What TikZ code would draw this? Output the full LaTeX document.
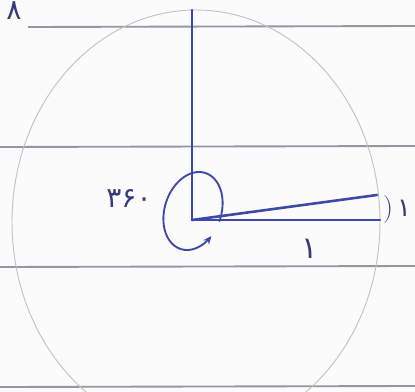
\documentclass[tikz,border=0pt]{standalone}
\usepackage{fontspec}
\newfontfamily\arabicfont[Script=Arabic]{DejaVu Sans}
\usetikzlibrary{arrows.meta}
\definecolor{paper}{RGB}{251,251,251}
\definecolor{rule}{RGB}{150,150,158}
\definecolor{pencil}{RGB}{195,195,195}
\definecolor{ink}{RGB}{62,72,170}
\definecolor{inktext}{RGB}{55,60,120}
\tikzset{
  ruled/.style={draw=rule, line width=1.6pt},
  pencilline/.style={draw=pencil, line width=0.8pt},
  inkline/.style={draw=ink, line width=2.2pt, line cap=round},
  loopline/.style={draw=ink, line width=1.6pt, line cap=round},
  digit/.style={text=inktext, inner sep=0pt, font=\arabicfont\fontsize{24}{24}\selectfont}
}
\begin{document}
\begin{tikzpicture}[x=0.03cm, y=-0.03cm]
\useasboundingbox (0,0) rectangle (415,392);
\fill[paper] (0,0) rectangle (415,392);
% ruled lines
\draw[ruled] (28,27) -- (415,26);
\draw[ruled] (0,147) -- (415,146);
\draw[ruled] (0,267) -- (415,266);
\draw[ruled] (0,387) -- (415,386);
% pencil circle (clipped to the page)
\begin{scope}
\clip (0,0) rectangle (415,392);
\draw[pencilline] (196,222) ellipse [x radius=184, y radius=212];
\end{scope}
% axes
\coordinate (O) at (192,220);
\coordinate (T) at (192,10);
\coordinate (R) at (380,220);
\coordinate (A) at (377,195);
\draw[inkline] (T) -- (O) -- (R);
\draw[inkline] (O) -- (A);
% angle loop
\draw[loopline, -{Stealth[length=7pt,width=6pt]}]
  plot[domain=-15:320, samples=80, smooth]
  ({193 + 29*cos(\x) + 6*sin(\x)}, {211 - 39*sin(\x)});
% labels
\node[digit] (l360) at (129,198) {۳۶۰};
\node[digit, font=\arabicfont\fontsize{26}{26}\selectfont] (l1) at (310,249) {۱};
\node[digit, font=\fontsize{24}{24}\selectfont] (par) at (388,209) {)};
\node[digit, font=\arabicfont\fontsize{22}{22}\selectfont] (l1b) at (404,208) {۱};
\node[digit, font=\arabicfont\fontsize{24}{24}\selectfont] (l8) at (14,11) {۸};
\end{tikzpicture}
\end{document}
